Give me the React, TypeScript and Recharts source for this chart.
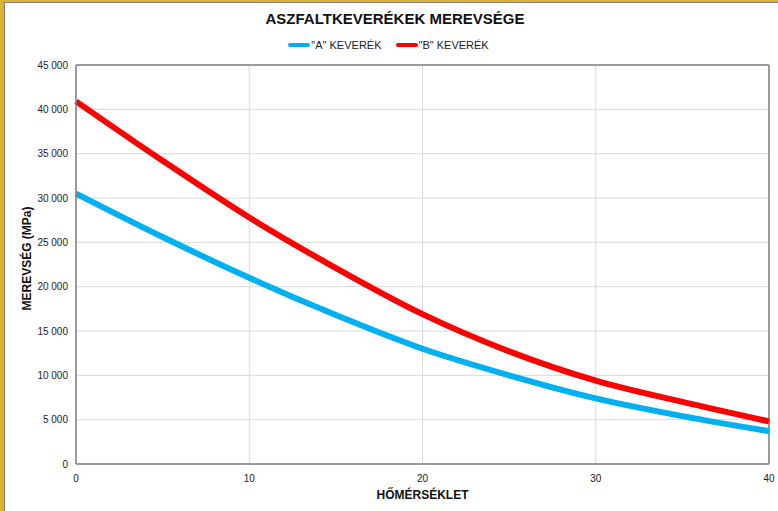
import { LineChart, Line, XAxis, YAxis, CartesianGrid, Legend, ReferenceLine } from 'recharts';

const temps = [0, 5, 10, 15, 20, 25, 30, 35, 40];
const mixA = [30500, 25600, 21000, 16800, 13000, 10000, 7400, 5400, 3700];
const mixB = [40900, 34200, 27800, 22100, 16900, 12700, 9400, 7000, 4800];
const xTicks = [0, 10, 20, 30, 40];
const yTicks = [0, 5000, 10000, 15000, 20000, 25000, 30000, 35000, 40000, 45000];

const data = temps.map((t, i) => ({ t, a: mixA[i], b: mixB[i] }));

const font = '"Liberation Sans", Arial, sans-serif';
const fmt = (v: number) => (v >= 1000 ? `${Math.floor(v / 1000)} ${String(v % 1000).padStart(3, '0')}` : String(v));

const LegendContent = () => (
  <div style={{ display: 'flex', justifyContent: 'center', fontFamily: font, fontSize: 11, color: '#222', height: 14, alignItems: 'center', paddingLeft: 8 }}>
    {[
      { name: '"A" KEVERÉK', color: '#00b0f0' },
      { name: '"B" KEVERÉK', color: '#ff0000' },
    ].map((it) => (
      <span key={it.name} style={{ display: 'inline-flex', alignItems: 'center', margin: '0 7px' }}>
        <span style={{ display: 'inline-block', width: 22, height: 4, borderRadius: 2, background: it.color, marginRight: 1 }} />
        {it.name}
      </span>
    ))}
  </div>
);

const YLabel = (props: any) => {
  const vb = props.viewBox || { y: 65, height: 399 };
  const cy = vb.y + vb.height / 2 - 6;
  return (
    <text x={31} y={cy} transform={`rotate(-90, 31, ${cy})`} textAnchor="middle" fontFamily={font} fontSize={12} fontWeight="bold" fill="#111">
      MEREVSÉG (MPa)
    </text>
  );
};

export default function App() {
  return (
    <div style={{ position: 'absolute', left: 0, top: 0, width: 778, height: 511, background: '#d8b23a' }}>
      <div style={{ position: 'absolute', left: 4, top: 2, right: 0, bottom: 0, background: '#fff', borderLeft: '1px solid #7f7f7f', borderTop: '1px solid #7f7f7f' }} />
      <div style={{ position: 'absolute', left: 6, top: 10, width: 778, textAlign: 'center', fontFamily: font, fontSize: 15, fontWeight: 'bold', color: '#111' }}>
        ASZFALTKEVERÉKEK MEREVSÉGE
      </div>
      <div style={{ position: 'absolute', left: 0, top: 0 }}>
        <LineChart width={778} height={511} data={data} margin={{ top: 51, right: 9, left: 0, bottom: 5 }}>
          <CartesianGrid stroke="#d9d9d9" strokeWidth={1} />
          <XAxis
            dataKey="t"
            type="number"
            domain={[0, 40]}
            ticks={xTicks}
            tickLine={false}
            tickMargin={5}
            height={42}
            axisLine={{ stroke: '#808080', strokeWidth: 1.5 }}
            tick={{ fontFamily: font, fontSize: 10, fill: '#222' }}
            label={{ value: 'HŐMÉRSÉKLET', position: 'insideBottom', offset: 7, fontFamily: font, fontSize: 12, fontWeight: 'bold', fill: '#111' }}
          />
          <YAxis
            type="number"
            domain={[0, 45000]}
            ticks={yTicks}
            width={76}
            tickLine={false}
            tickFormatter={fmt}
            axisLine={{ stroke: '#808080', strokeWidth: 1.5 }}
            tick={{ fontFamily: font, fontSize: 10, fill: '#222' }}
            label={<YLabel />}
          />
          <ReferenceLine y={45000} stroke="#808080" strokeWidth={1.5} />
          <ReferenceLine x={40} stroke="#808080" strokeWidth={1.5} />
          <Legend verticalAlign="top" height={14} wrapperStyle={{ top: 38 }} content={<LegendContent />} />
          <Line type="monotone" dataKey="a" name='"A" KEVERÉK' stroke="#00b0f0" strokeWidth={6} dot={false} isAnimationActive={false} />
          <Line type="monotone" dataKey="b" name='"B" KEVERÉK' stroke="#ff0000" strokeWidth={6} dot={false} isAnimationActive={false} />
        </LineChart>
      </div>
    </div>
  );
}
